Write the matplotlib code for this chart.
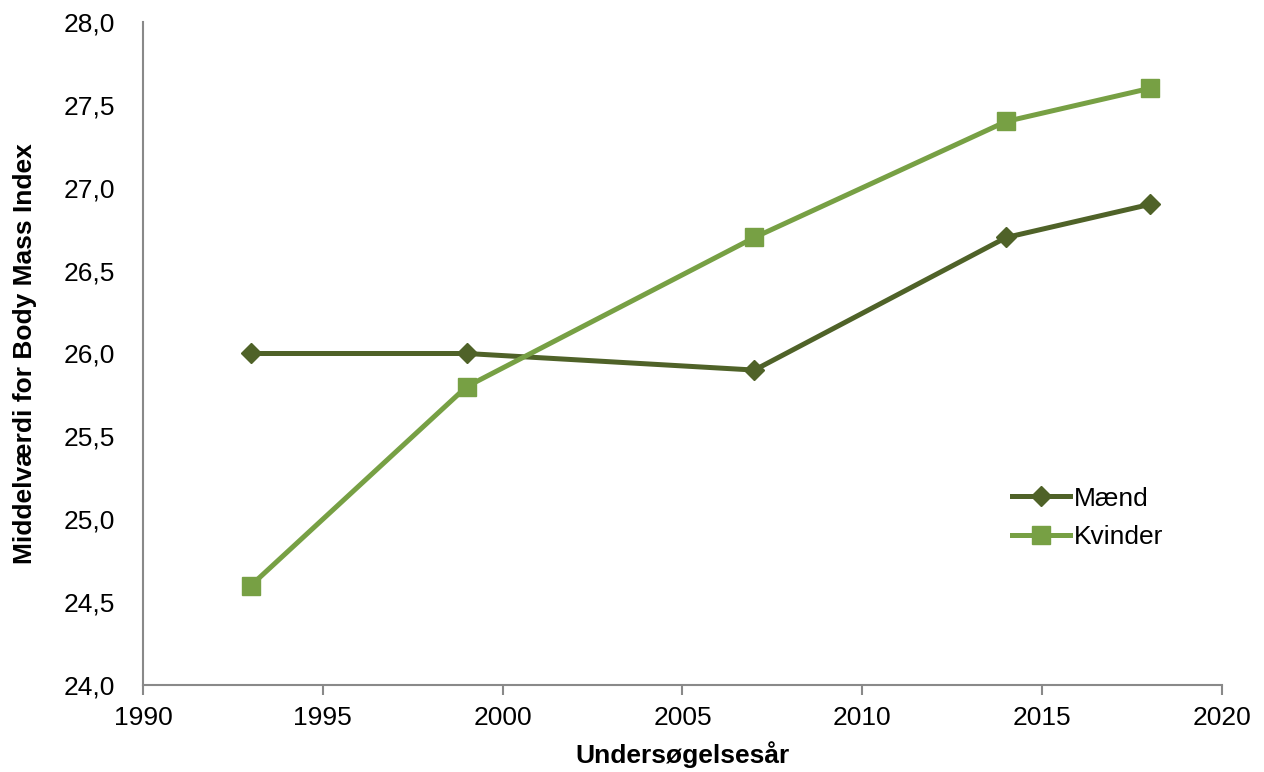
import matplotlib.pyplot as plt
from matplotlib.ticker import FuncFormatter

plt.rcParams['font.family'] = ['Liberation Sans', 'DejaVu Sans']

# Data
aar = [1993, 1999, 2007, 2014, 2018]
maend = [26.0, 26.0, 25.9, 26.7, 26.9]
kvinder = [24.6, 25.8, 26.7, 27.4, 27.6]

farve_maend = '#4F6228'
farve_kvinder = '#77A044'

fig = plt.figure(figsize=(12.64, 7.72), dpi=100)
ax = fig.add_axes([0.1131, 0.1127, 0.8537, 0.8588])

ax.plot(aar, maend, color=farve_maend, lw=3.6, marker='D', ms=10, label='Mænd')
ax.plot(aar, kvinder, color=farve_kvinder, lw=3.6, marker='s', ms=13, label='Kvinder')

ax.set_xlim(1990, 2020)
ax.set_ylim(24, 28)
ax.set_xticks(range(1990, 2021, 5))
ax.set_yticks([24, 24.5, 25, 25.5, 26, 26.5, 27, 27.5, 28])
ax.yaxis.set_major_formatter(FuncFormatter(lambda v, p: f'{v:.1f}'.replace('.', ',')))

for s in ['top', 'right']:
    ax.spines[s].set_visible(False)
for s in ['left', 'bottom']:
    ax.spines[s].set_color('#898989')
    ax.spines[s].set_linewidth(1.5)
ax.tick_params(axis='y', length=0, labelsize=19, pad=20)
ax.tick_params(axis='x', length=7, width=1.5, color='#898989', labelsize=19, pad=8)

ax.set_xlabel('Undersøgelsesår', fontsize=19, fontweight='bold', labelpad=8)
ax.set_ylabel('Middelværdi for Body Mass Index', fontsize=19, fontweight='bold', labelpad=19)

ax.legend(loc='upper left', bbox_to_anchor=(0.783, 0.335), frameon=False, fontsize=19,
          handlelength=2.2, handletextpad=0.15, labelspacing=0.55)

plt.savefig('out.png', dpi=100)
plt.close()
